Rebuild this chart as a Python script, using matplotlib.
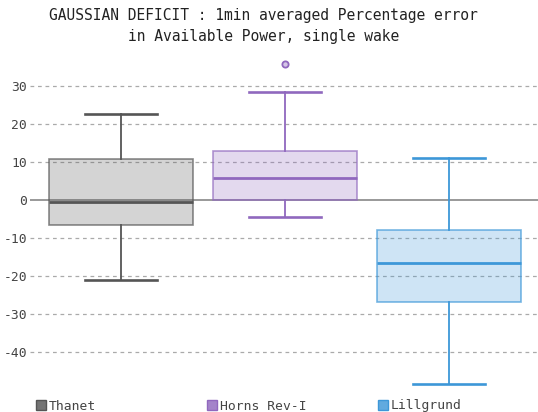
import matplotlib
matplotlib.use("Agg")
import matplotlib.pyplot as plt
from matplotlib.patches import Rectangle

categories = ["Thanet", "Horns Rev-I", "Lillgrund"]
whislo = [-21.1, -4.5, -48.4]
q1 = [-6.6, -0.1, -26.8]
med = [-0.6, 5.8, -16.6]
q3 = [10.8, 12.9, -7.9]
whishi = [22.6, 28.4, 11.0]
fliers = [[], [35.8], []]
yticks = [30, 20, 10, 0, -10, -20, -30, -40]

colors = ["#555555", "#9068be", "#3d97d8"]

W, H = 538, 412
fig = plt.figure(figsize=(W / 100, H / 100), dpi=100)
ax = fig.add_axes([30 / W, 20 / H, 508 / W, 332 / H])

mono = "DejaVu Sans Mono"

for i, c in enumerate(colors):
    st = dict(whislo=whislo[i], q1=q1[i], med=med[i], q3=q3[i], whishi=whishi[i],
              fliers=fliers[i], label=categories[i])
    ax.bxp([st], positions=[i], widths=0.878, patch_artist=True, showfliers=True,
           boxprops=dict(facecolor=c + "40", edgecolor=c + "b0", linewidth=1.2),
           medianprops=dict(color=c, linewidth=2.0),
           whiskerprops=dict(color=c, linewidth=1.3),
           capprops=dict(color=c, linewidth=1.9),
           capwidths=0.439,
           flierprops=dict(marker="o", markersize=4.5, markerfacecolor=c + "60",
                           markeredgecolor=c, markeredgewidth=1.3, linestyle="none"),
           zorder=3)

ax.set_xlim(-0.555, 2.543)
ax.set_ylim(-50.5, 36.8)
ax.set_yticks(yticks)
ax.set_yticklabels([str(t) for t in yticks], fontfamily=mono, fontsize=9.4, color="#444444")
ax.set_xticks([])
ax.tick_params(axis="y", length=0, pad=2)
for s in ax.spines.values():
    s.set_visible(False)
for t in yticks:
    if t == 0:
        ax.axhline(0, color="#888888", linewidth=1.2, zorder=1)
    else:
        ax.axhline(t, color="#aaaaaa", linewidth=0.9, linestyle=(0, (3, 3)), zorder=1)

fig.suptitle("GAUSSIAN DEFICIT : 1min averaged Percentage error\nin Available Power, single wake",
             x=0.49, y=1 - 8 / H, va="top", fontfamily=mono, fontsize=10.5,
             color="#222222", linespacing=1.5)

for i, (cat, c) in enumerate(zip(categories, colors)):
    x0 = 36 + 171 * i
    fig.patches.append(Rectangle((x0 / W, (H - 410) / H), 10 / W, 10 / H,
                                 transform=fig.transFigure, facecolor=c + "d0",
                                 edgecolor=c, linewidth=1.0))
    fig.text((x0 + 13) / W, (H - 406) / H, cat, fontfamily=mono, fontsize=9.4,
             color="#444444", va="center", ha="left")

fig.savefig("out.png", dpi=100)
